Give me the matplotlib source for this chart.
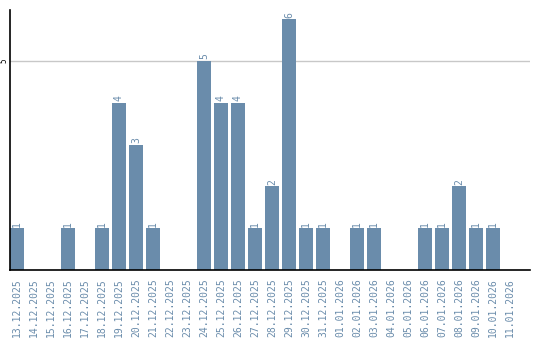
import numpy as np
import matplotlib
matplotlib.use("Agg")
import matplotlib.pyplot as plt

dates = [
    "13.12.2025", "14.12.2025", "15.12.2025", "16.12.2025", "17.12.2025",
    "18.12.2025", "19.12.2025", "20.12.2025", "21.12.2025", "22.12.2025",
    "23.12.2025", "24.12.2025", "25.12.2025", "26.12.2025", "27.12.2025",
    "28.12.2025", "29.12.2025", "30.12.2025", "31.12.2025", "01.01.2026",
    "02.01.2026", "03.01.2026", "04.01.2026", "05.01.2026", "06.01.2026",
    "07.01.2026", "08.01.2026", "09.01.2026", "10.01.2026", "11.01.2026",
]
counts = [1, 0, 0, 1, 0, 1, 4, 3, 1, 0, 0, 5, 4, 4, 1, 2, 6, 1, 1, 0,
          1, 1, 0, 0, 1, 1, 2, 1, 1, 0]

bar_color = "#6a8cab"
text_color = "#6a8cab"
font = "DejaVu Sans Mono"

fig = plt.figure(figsize=(5.4, 3.4), dpi=100)
ax = fig.add_axes([10 / 540, 70 / 340, 520 / 540, 260 / 340])

x = np.arange(len(counts))
width = 14 / 17
ax.bar(x, counts, width=width, color=bar_color, zorder=2)

for xi, c in zip(x, counts):
    if c > 0:
        ax.text(xi, c + 0.04, str(c), rotation=90, ha="center", va="bottom",
                color=text_color, fontsize=7, family=font)

ax.axhline(5, color="#c8c8c8", linewidth=1, zorder=1)

ax.set_xlim(-width / 2, 30.18)
ax.set_ylim(0, 6.22)

ax.set_xticks(x)
ax.set_xticklabels(dates, rotation=90, color=text_color, fontsize=7, family=font)
ax.set_yticks([5])
ax.set_yticklabels(["5"], rotation=90, va="center", fontsize=5.5, family=font)
ax.tick_params(axis="both", length=0)
ax.tick_params(axis="x", pad=6)
ax.tick_params(axis="y", pad=1)

for side in ("top", "right"):
    ax.spines[side].set_visible(False)
ax.spines["left"].set_linewidth(1.2)
ax.spines["bottom"].set_linewidth(1.2)

fig.savefig("out.png", dpi=100)
